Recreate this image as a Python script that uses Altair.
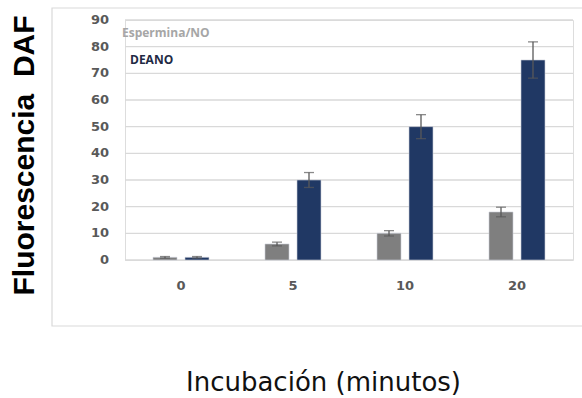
import altair as alt
import pandas as pd

times = ["0", "5", "10", "20"]
series = ["Espermina/NO", "DEANO"]
espermina = [1, 6, 10, 18]
espermina_err = [0.3, 0.7, 1.0, 1.8]
deano = [1, 30, 50, 75]
deano_err = [0.3, 2.8, 4.5, 6.8]
colors = ["#7f7f7f", "#203864"]
y_ticks = [0, 10, 20, 30, 40, 50, 60, 70, 80, 90]

rows = []
for t, v, e in zip(times, espermina, espermina_err):
    rows.append({"t": t, "s": series[0], "v": v, "lo": v - e, "hi": v + e})
for t, v, e in zip(times, deano, deano_err):
    rows.append({"t": t, "s": series[1], "v": v, "lo": v - e, "hi": v + e})
df = pd.DataFrame(rows)
ticks_df = pd.DataFrame({"tick": y_ticks, "label": [str(v) for v in y_ticks]})

xaxis = alt.Axis(title="Incubación (minutos)", labelAngle=0, domain=False, ticks=False,
                 labelFont="DejaVu Sans", labelFontWeight="bold", labelFontSize=13,
                 labelColor="#595959", labelPadding=19,
                 titleFont="DejaVu Sans", titleFontSize=26, titleFontWeight="normal",
                 titleColor="#111111", titleX=198, titleY=122, titleBaseline="middle",
                 titleAnchor="middle")
xscale = alt.Scale(paddingInner=0, paddingOuter=0)
xoff = alt.XOffset("s:N", sort=series, scale=alt.Scale(paddingInner=0.25, paddingOuter=0.875))
yscale = alt.Scale(domain=[0, 90], nice=False, zero=True)
yaxis = alt.Axis(title="Fluorescencia\u00a0\u00a0DAF", labels=False, grid=False,
                 domain=False, ticks=False,
                 titleFont="Liberation Sans", titleFontSize=30, titleFontWeight="bold",
                 titleColor="#000000", titleAngle=270, titleX=-101, titleY=135,
                 titleBaseline="middle", titleAlign="center")


def X():
    return alt.X("t:N", sort=times, scale=xscale, axis=xaxis)


def Y(field):
    return alt.Y(field, scale=yscale, axis=yaxis)


color = alt.Color("s:N", sort=series, scale=alt.Scale(domain=series, range=colors), legend=None)

grid = alt.Chart(ticks_df).mark_rule(color="#d9d9d9", strokeWidth=1.3).encode(
    y=Y("tick:Q"), x=alt.value(0), x2=alt.value(448))
ylabels = alt.Chart(ticks_df).mark_text(
    align="right", baseline="middle", font="DejaVu Sans", fontWeight="bold", fontSize=13,
    color="#595959").encode(y=Y("tick:Q"), x=alt.value(-16), text="label:N")

bars = alt.Chart(df).mark_bar(stroke="#c9cdd6", strokeWidth=0.6).encode(
    x=X(), xOffset=xoff, y=Y("v:Q"), color=color)

rule = alt.Chart(df).mark_rule(color="#595959", strokeWidth=1.3).encode(
    x=X(), xOffset=xoff, y=Y("lo:Q"), y2="hi:Q")
cap_lo = alt.Chart(df).mark_tick(color="#595959", thickness=1.3, size=10).encode(
    x=X(), xOffset=xoff, y=Y("lo:Q"))
cap_hi = alt.Chart(df).mark_tick(color="#595959", thickness=1.3, size=10).encode(
    x=X(), xOffset=xoff, y=Y("hi:Q"))

one = pd.DataFrame({"a": [0]})
frame = alt.Chart(one).mark_rect(fill=None, stroke="#d9d9d9", strokeWidth=1.2).encode(
    x=alt.value(-73), x2=alt.value(470), y=alt.value(-12), y2=alt.value(306))

leg1 = alt.Chart(pd.DataFrame({"s": [series[0]]})).mark_text(
    align="left", baseline="middle", font="Open Sans", fontWeight="bold", fontSize=12,
    color="#a6a6a6").encode(x=alt.value(-3), y=alt.value(13), text="s:N")
leg2 = alt.Chart(pd.DataFrame({"s": [series[1]]})).mark_text(
    align="left", baseline="middle", font="Open Sans", fontWeight="bold", fontSize=12,
    color="#1f2a44").encode(x=alt.value(5), y=alt.value(40), text="s:N")

chart = alt.layer(frame, grid, ylabels, bars, rule, cap_lo, cap_hi, leg1, leg2).properties(
    width=448, height=240,
    autosize=alt.AutoSizeParams(type="none"),
    padding={"left": 125, "right": 9, "top": 20, "bottom": 138},
).configure_view(stroke=None).configure(background="white")

chart.save("out.html", embed_options={"renderer": "svg", "actions": False})
